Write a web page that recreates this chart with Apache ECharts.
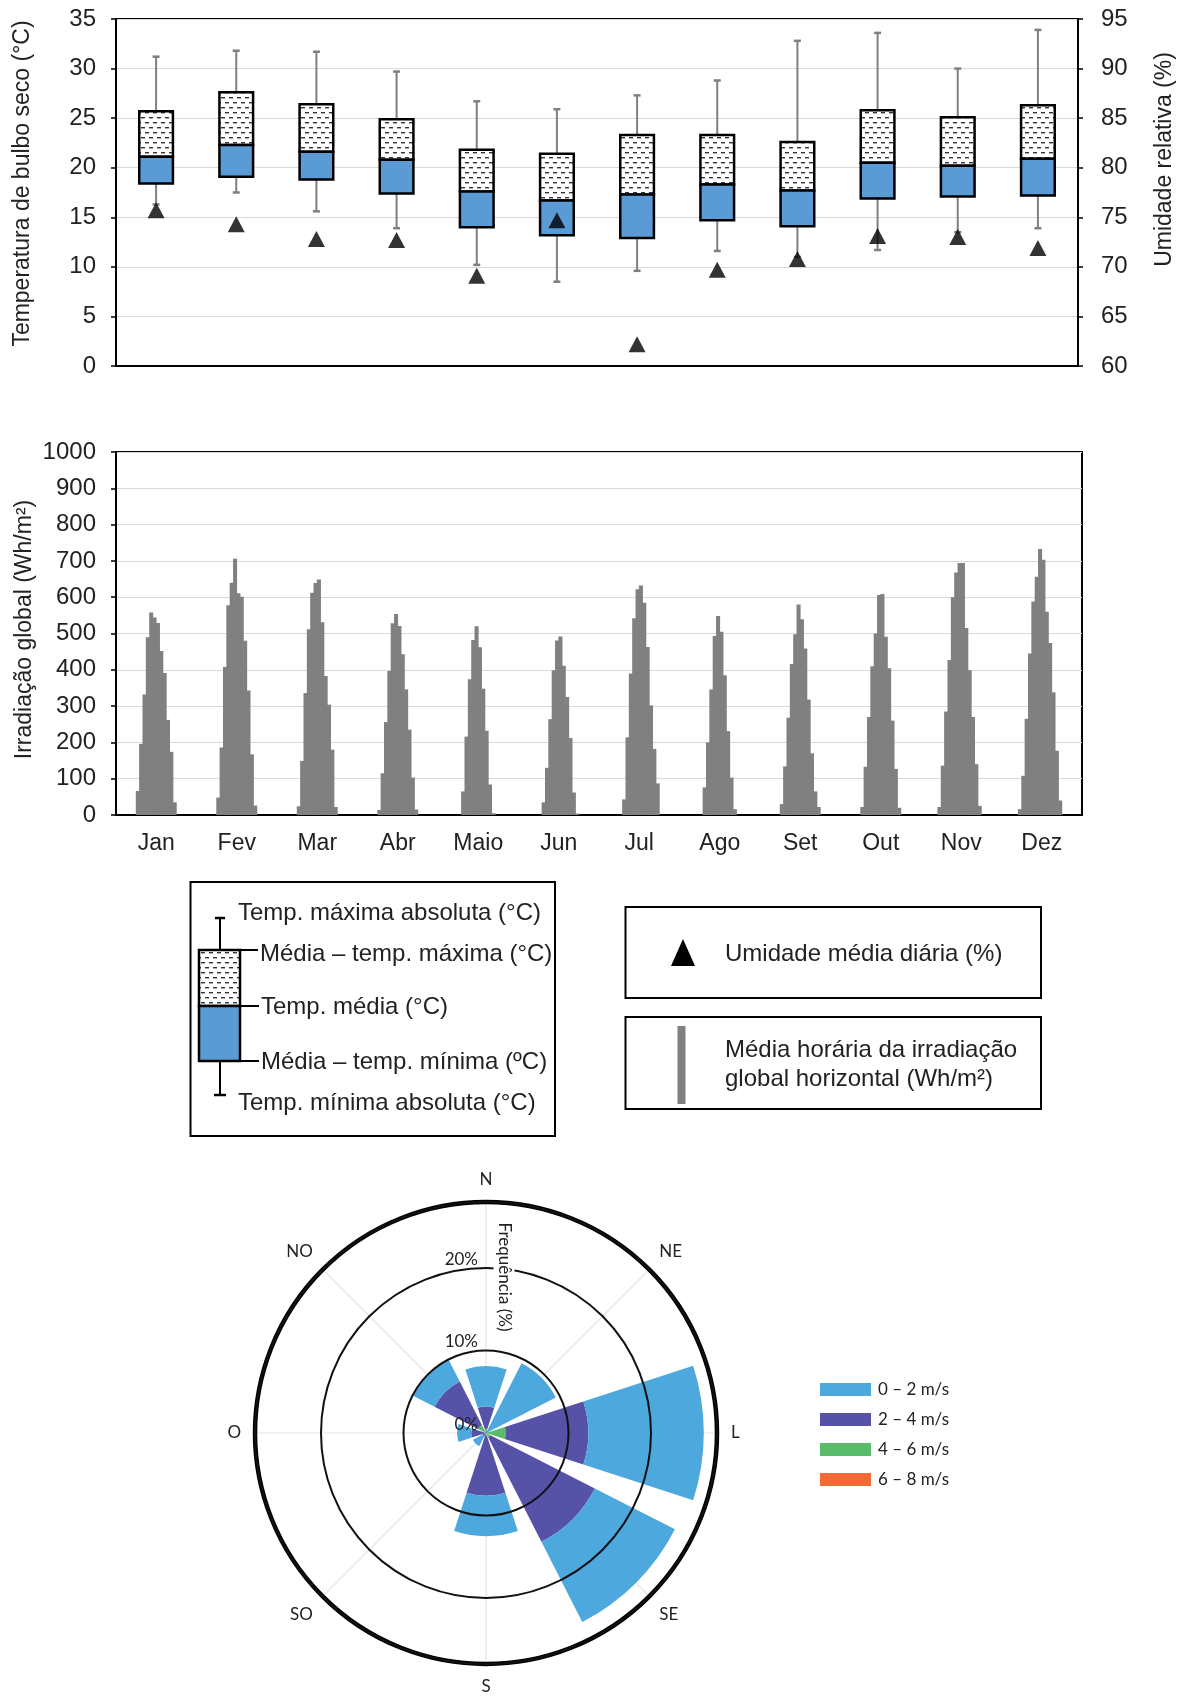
<!DOCTYPE html>
<html>
<head>
<meta charset="utf-8">
<script src="https://cdn.jsdelivr.net/npm/echarts@6/dist/echarts.min.js"></script>
<style>
html,body{margin:0;padding:0;background:#fff;}
#c{width:1184px;height:1697px;}
</style>
</head>
<body>
<div id="c"></div>
<script>
// ---------- DATA ----------
const months = ['Jan','Fev','Mar','Abr','Maio','Jun','Jul','Ago','Set','Out','Nov','Dez'];
// Temperatura de bulbo seco (°C)
const tempAbsMax  = [31.2, 31.8, 31.7, 29.7, 26.7, 25.9, 27.3, 28.8, 32.8, 33.6, 30.0, 33.9];
const tempMeanMax = [25.7, 27.6, 26.4, 24.9, 21.8, 21.4, 23.3, 23.3, 22.6, 25.8, 25.1, 26.3];
const tempMean    = [21.1, 22.3, 21.6, 20.8, 17.6, 16.7, 17.3, 18.3, 17.7, 20.5, 20.2, 20.9];
const tempMeanMin = [18.4, 19.1, 18.8, 17.4, 14.0, 13.2, 12.9, 14.7, 14.1, 16.9, 17.1, 17.2];
const tempAbsMin  = [16.3, 17.5, 15.6, 13.9, 10.2,  8.5,  9.6, 11.6, 11.0, 11.7, 13.5, 13.9];
// Umidade média diária (%)
const humidity    = [75.7, 74.3, 72.8, 72.7, 69.1, 74.7, 62.2, 69.7, 70.8, 73.1, 73.0, 71.9];

// Média horária da irradiação global horizontal (Wh/m²), horas 0..23
const irrJan  = [0,0,0,0,0,0,66,196,332,490,558,544,529,452,391,262,174,35,0,0,0,0,0,0];
const irrFev  = [0,0,0,0,0,0,48,186,408,578,640,706,611,601,480,343,167,26,0,0,0,0,0,0];
const irrMar  = [0,0,0,0,0,0,24,149,336,512,612,639,649,531,383,304,180,22,0,0,0,0,0,0];
const irrAbr  = [0,0,0,0,0,0,14,115,256,397,528,554,521,443,346,235,103,15,0,0,0,0,0,0];
const irrMaio = [0,0,0,0,0,0,0,65,216,374,482,520,462,348,232,84,5,0,0,0,0,0,0,0];
const irrJun  = [0,0,0,0,0,0,0,35,130,264,399,481,492,411,325,212,62,4,0,0,0,0,0,0];
const irrJul  = [0,0,0,0,0,0,0,43,214,390,542,622,632,585,463,302,182,87,0,0,0,0,0,0];
const irrAgo  = [0,0,0,0,0,0,0,76,200,346,493,548,505,385,231,103,16,0,0,0,0,0,0,0];
const irrSet  = [0,0,0,0,0,0,30,134,268,416,498,580,539,459,318,170,65,22,0,0,0,0,0,0];
const irrOut  = [0,0,0,0,0,0,22,133,270,410,500,606,609,491,404,260,127,20,0,0,0,0,0,0];
const irrNov  = [0,0,0,0,0,22,136,285,427,600,668,694,694,515,399,270,140,25,0,0,0,0,0,0];
const irrDez  = [0,0,0,0,0,16,108,265,445,588,656,733,703,560,474,338,177,40,0,0,0,0,0,0];

// Rosa dos ventos: frequência (%) por direção e faixa de velocidade
const windDirs  = ['N','NE','L','SE','S','SO','O','NO'];
const wind0to2  = [4.9, 9.2, 14.0, 10.9, 4.9, 1.3, 1.7, 3.0];
const wind2to4  = [2.7, 0.3, 10.0, 14.2, 7.3, 0.5, 1.8, 5.9];
const wind4to6  = [0.5, 0.0,  2.4,  0.6, 0.3, 0.0, 0.0, 1.1];
const wind6to8  = [0.0, 0.0,  0.0,  0.0, 0.0, 0.0, 0.0, 0.0];
const windTicks = [0, 10, 20];

// ---------- BUILD ----------
const irrMonths = [irrJan, irrFev, irrMar, irrAbr, irrMaio, irrJun, irrJul, irrAgo, irrSet, irrOut, irrNov, irrDez];
const irrData = [].concat(...irrMonths);
const hourCats = irrData.map((_, i) => String(i));

const FONT = '"Liberation Sans", Arial, sans-serif';
const ROSEFONT = 'Lato, "Open Sans", sans-serif';
const TXT = '#222';
const BLUE = '#5B9BD5';
const GREY = '#7f7f7f';

// dashed pattern for upper half of the box
const pc = document.createElement('canvas');
pc.width = 8; pc.height = 10;
const g = pc.getContext('2d');
g.fillStyle = '#fff'; g.fillRect(0, 0, 8, 10);
g.fillStyle = '#333';
g.fillRect(1, 2, 4, 1.4);
g.fillRect(5, 7, 3, 1.4);
g.fillRect(0, 7, 1, 1.4);
const dashPattern = { image: pc, repeat: 'repeat' };

function renderBox(params, api) {
  const i = api.value(0);
  const xc = api.coord([i, 0])[0];
  const w = api.size([1, 0])[0] * 0.42;
  const yAMax = api.coord([i, api.value(1)])[1];
  const yMMax = api.coord([i, api.value(2)])[1];
  const yMean = api.coord([i, api.value(3)])[1];
  const yMMin = api.coord([i, api.value(4)])[1];
  const yAMin = api.coord([i, api.value(5)])[1];
  return {
    type: 'group',
    children: [
      { type: 'line', shape: { x1: xc, y1: yAMax, x2: xc, y2: yMMax }, style: { stroke: GREY, lineWidth: 2 } },
      { type: 'line', shape: { x1: xc - 3.5, y1: yAMax, x2: xc + 3.5, y2: yAMax }, style: { stroke: GREY, lineWidth: 2.5 } },
      { type: 'line', shape: { x1: xc, y1: yMMin, x2: xc, y2: yAMin }, style: { stroke: GREY, lineWidth: 2 } },
      { type: 'line', shape: { x1: xc - 3.5, y1: yAMin, x2: xc + 3.5, y2: yAMin }, style: { stroke: GREY, lineWidth: 2.5 } },
      { type: 'rect', shape: { x: xc - w / 2, y: yMMax, width: w, height: yMean - yMMax }, style: { fill: dashPattern, stroke: '#000', lineWidth: 2.5 } },
      { type: 'rect', shape: { x: xc - w / 2, y: yMean, width: w, height: yMMin - yMean }, style: { fill: BLUE, stroke: '#000', lineWidth: 2.5 } }
    ]
  };
}

function renderHour(params, api) {
  const i = api.value(0);
  const v = api.value(1);
  if (!v) return null;
  const p0 = api.coord([i, 0]);
  const p1 = api.coord([i, v]);
  const w = api.size([1, 0])[0];
  return { type: 'rect', shape: { x: p0[0] - w / 2 - 0.35, y: p1[1], width: w + 0.7, height: p0[1] - p1[1] },
           style: { fill: '#808080' } };
}

const boxData = months.map((m, i) => [i, tempAbsMax[i], tempMeanMax[i], tempMean[i], tempMeanMin[i], tempAbsMin[i]]);
const hourData = irrData.map((v, i) => [i, v]);

// legend graphics (boxes for the two upper charts)
const legText = (text, x, y) => ({ type: 'text', x: x, y: y, z: 60,
  style: { text: text, fontSize: 24, fontFamily: FONT, fill: TXT, align: 'left', verticalAlign: 'middle' } });
const gLine = (x1, y1, x2, y2, w, c) => ({ type: 'line', z: 60, shape: { x1, y1, x2, y2 }, style: { stroke: c || '#000', lineWidth: w || 2 } });

const graphics = [
  // box 1
  { type: 'rect', z: 55, shape: { x: 190.5, y: 882, width: 364.5, height: 254 }, style: { fill: '#fff', stroke: '#000', lineWidth: 2 } },
  gLine(220, 918, 220, 950, 2), gLine(215, 918, 225, 918, 2.5),
  gLine(220, 1061, 220, 1095, 2), gLine(214, 1095, 226, 1095, 2.5),
  { type: 'rect', z: 60, shape: { x: 199, y: 950, width: 41, height: 56 }, style: { fill: dashPattern, stroke: '#000', lineWidth: 2.5 } },
  { type: 'rect', z: 60, shape: { x: 199, y: 1006, width: 41, height: 55 }, style: { fill: BLUE, stroke: '#000', lineWidth: 2.5 } },
  gLine(240, 950, 258, 950, 2), gLine(240, 1006, 259, 1006, 2), gLine(240, 1061, 259, 1061, 2),
  legText('Temp. máxima absoluta (°C)', 238, 913),
  legText('Média – temp. máxima (°C)', 260, 954),
  legText('Temp. média (°C)', 261, 1007),
  legText('Média – temp. mínima (ºC)', 261, 1062),
  legText('Temp. mínima absoluta (°C)', 238, 1103),
  // box 2
  { type: 'rect', z: 55, shape: { x: 625.5, y: 907, width: 415.5, height: 91 }, style: { fill: '#fff', stroke: '#000', lineWidth: 2 } },
  { type: 'polygon', z: 60, shape: { points: [[683, 939], [671, 966], [695, 966]] }, style: { fill: '#000' } },
  legText('Umidade média diária (%)', 725, 954),
  // box 3
  { type: 'rect', z: 55, shape: { x: 625.5, y: 1017, width: 415.5, height: 92 }, style: { fill: '#fff', stroke: '#000', lineWidth: 2 } },
  { type: 'rect', z: 60, shape: { x: 677.5, y: 1026, width: 8, height: 78 }, style: { fill: '#808080' } },
  legText('Média horária da irradiação', 725, 1050),
  legText('global horizontal (Wh/m²)', 725, 1079),
  // wind rose axis title
  { type: 'text', z: 100, x: 504, y: 1277, rotation: -Math.PI / 2,
    style: { text: 'Frequência (%)', fontSize: 17, fontFamily: ROSEFONT, fill: TXT, align: 'center', verticalAlign: 'middle', backgroundColor: '#fff', padding: [2, 3] } }
];

const ROSE_CENTER = [486, 1433];
const ROSE_R = 231;

const yTitle = (extra) => Object.assign({ fontSize: 23, color: TXT, fontFamily: FONT }, extra || {});

const option = {
  animation: false,
  backgroundColor: '#fff',
  textStyle: { fontFamily: FONT },
  grid: [
    { left: 116, top: 19, width: 966, height: 347, show: true, borderColor: '#000', borderWidth: 2, backgroundColor: 'transparent' },
    { left: 116, top: 452, width: 966, height: 363, show: true, borderColor: '#000', borderWidth: 2, backgroundColor: 'transparent' }
  ],
  xAxis: [
    { gridIndex: 0, type: 'category', data: months, boundaryGap: true,
      axisLine: { lineStyle: { color: '#000', width: 2 } }, axisTick: { show: false }, axisLabel: { show: false }, splitLine: { show: false } },
    { gridIndex: 1, type: 'category', data: hourCats, show: false, boundaryGap: true },
    { gridIndex: 1, type: 'category', data: months, position: 'bottom', boundaryGap: true,
      axisLine: { lineStyle: { color: '#000', width: 2 } }, axisTick: { show: false },
      axisLabel: { fontSize: 23, color: TXT, margin: 17, fontFamily: FONT }, splitLine: { show: false } }
  ],
  yAxis: [
    { gridIndex: 0, type: 'value', min: 0, max: 35, interval: 5, position: 'left',
      name: 'Temperatura de bulbo seco (°C)', nameLocation: 'middle', nameRotate: 90, nameGap: 82, nameMoveOverlap: false,
      nameTextStyle: yTitle({ padding: [0, 0, 0, 18] }),
      axisLine: { show: true, lineStyle: { color: '#000', width: 2 } },
      axisTick: { show: true, length: 5, lineStyle: { color: '#000', width: 1.5 } },
      axisLabel: { fontSize: 24, color: TXT, margin: 20, fontFamily: FONT },
      splitLine: { show: true, lineStyle: { color: '#d9d9d9', width: 1 } } },
    { gridIndex: 0, type: 'value', min: 60, max: 95, interval: 5, position: 'right',
      name: 'Umidade relativa (%)', nameLocation: 'middle', nameRotate: 90, nameGap: 75, nameMoveOverlap: false,
      nameTextStyle: yTitle({ padding: [0, 0, 0, 66] }),
      axisLine: { show: true, lineStyle: { color: '#000', width: 2 } },
      axisTick: { show: true, length: 5, lineStyle: { color: '#000', width: 1.5 } },
      axisLabel: { fontSize: 24, color: TXT, margin: 23, fontFamily: FONT },
      splitLine: { show: false } },
    { gridIndex: 1, type: 'value', min: 0, max: 1000, interval: 100, position: 'left',
      name: 'Irradiação global (Wh/m²)', nameLocation: 'middle', nameRotate: 90, nameGap: 80, nameMoveOverlap: false,
      nameTextStyle: yTitle({ padding: [0, 0, 0, 8] }),
      axisLine: { show: true, lineStyle: { color: '#000', width: 2 } },
      axisTick: { show: true, length: 5, lineStyle: { color: '#000', width: 1.5 } },
      axisLabel: { fontSize: 24, color: TXT, margin: 20, fontFamily: FONT, formatter: v => String(v) },
      splitLine: { show: true, lineStyle: { color: '#d9d9d9', width: 1 } } }
  ],
  polar: [
    { center: ROSE_CENTER, radius: ROSE_R },
    { center: ROSE_CENTER, radius: ROSE_R }
  ],
  angleAxis: [
    { polarIndex: 0, type: 'category', data: windDirs, startAngle: 112.5, clockwise: true, boundaryGap: true, z: 1,
      axisLine: { show: true, lineStyle: { color: '#000', width: 4.5 } },
      axisTick: { show: false }, splitLine: { show: false },
      axisLabel: { margin: 14, fontSize: 17, color: TXT, fontFamily: ROSEFONT } },
    { polarIndex: 1, type: 'value', min: 0, max: 360, interval: 45, startAngle: 90, clockwise: true, z: 0,
      axisLine: { show: false }, axisTick: { show: false }, axisLabel: { show: false },
      splitLine: { show: true, lineStyle: { color: '#e3e3e3', width: 1.2 } } }
  ],
  radiusAxis: [
    { polarIndex: 0, type: 'value', min: 0, max: 28, interval: 10, z: 10,
      axisLine: { show: false }, axisTick: { show: false }, axisLabel: { show: false },
      splitLine: { show: true, lineStyle: { color: '#111', width: 2 } } },
    { polarIndex: 1, type: 'value', min: 0, max: 28, interval: 10, z: 11,
      axisLine: { show: false }, axisTick: { show: false }, splitLine: { show: false },
      axisLabel: { show: true, fontSize: 17, color: TXT, fontFamily: ROSEFONT, margin: 8, verticalAlign: 'bottom',
        formatter: v => (windTicks.indexOf(v) >= 0 ? v + '%' : '') } }
  ],
  legend: {
    data: ['0 – 2 m/s', '2 – 4 m/s', '4 – 6 m/s', '6 – 8 m/s'],
    orient: 'vertical', left: 815, top: 1376, itemWidth: 51, itemHeight: 13, itemGap: 13,
    icon: 'rect', selectedMode: false,
    textStyle: { fontSize: 17, fontFamily: ROSEFONT, color: TXT, padding: [0, 0, 0, 2] }
  },
  graphic: graphics,
  series: [
    { name: 'Temperatura', type: 'custom', xAxisIndex: 0, yAxisIndex: 0, renderItem: renderBox,
      encode: { x: 0, y: [1, 2, 3, 4, 5] }, data: boxData, z: 3 },
    { name: 'Umidade média diária (%)', type: 'scatter', xAxisIndex: 0, yAxisIndex: 1,
      symbol: 'triangle', symbolSize: [17, 16], itemStyle: { color: '#000' },
      data: humidity.map((v, i) => [i, v]), z: 5 },
    { name: 'Irradiação', type: 'custom', xAxisIndex: 1, yAxisIndex: 2, renderItem: renderHour,
      encode: { x: 0, y: 1 }, data: hourData, z: 3 },
    { name: '6 – 8 m/s', type: 'bar', coordinateSystem: 'polar', polarIndex: 0, stack: 'wind', data: wind6to8,
      barCategoryGap: '20%', itemStyle: { color: '#F26A35' } },
    { name: '4 – 6 m/s', type: 'bar', coordinateSystem: 'polar', polarIndex: 0, stack: 'wind', data: wind4to6,
      barCategoryGap: '20%', itemStyle: { color: '#58BC6A' } },
    { name: '2 – 4 m/s', type: 'bar', coordinateSystem: 'polar', polarIndex: 0, stack: 'wind', data: wind2to4,
      barCategoryGap: '20%', itemStyle: { color: '#5552A8' } },
    { name: '0 – 2 m/s', type: 'bar', coordinateSystem: 'polar', polarIndex: 0, stack: 'wind', data: wind0to2,
      barCategoryGap: '20%', itemStyle: { color: '#4DA8DE' } }
  ]
};

const chart = echarts.init(document.getElementById('c'), null, { renderer: 'canvas', width: 1184, height: 1697 });
chart.setOption(option);
</script>
</body>
</html>
